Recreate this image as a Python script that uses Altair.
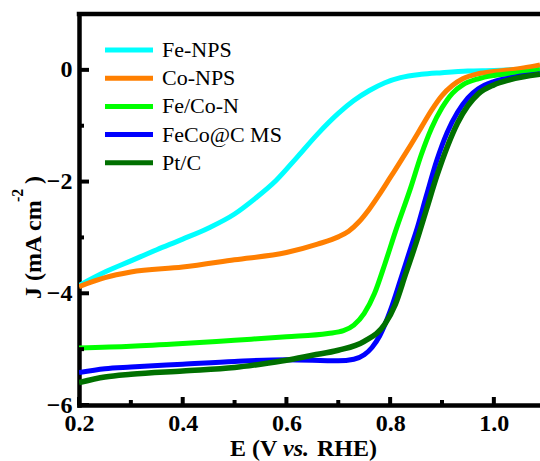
import altair as alt
import pandas as pd

# Series names and colours (legend order = drawing order)
series_names = ["Fe-NPS", "Co-NPS", "Fe/Co-N", "FeCo@C MS", "Pt/C"]
series_colors = ["#00FFFF", "#FF7F00", "#00FF00", "#0000FF", "#007000"]

# LSV curves: potential E (V vs. RHE) and current density J (mA cm-2)
fe_nps_E = [0.20, 0.25, 0.30, 0.35, 0.40, 0.45, 0.50, 0.54, 0.58, 0.62, 0.66, 0.70,
            0.73, 0.76, 0.79, 0.82, 0.86, 0.90, 0.95, 1.00, 1.05, 1.089]
fe_nps_J = [-3.86, -3.62, -3.42, -3.22, -3.03, -2.83, -2.58, -2.30, -1.98, -1.57, -1.15, -0.78,
            -0.55, -0.37, -0.23, -0.14, -0.08, -0.05, -0.02, -0.01, 0.01, 0.03]

co_nps_E = [0.20, 0.25, 0.30, 0.40, 0.50, 0.60, 0.66, 0.70, 0.72, 0.74, 0.76, 0.78, 0.80,
            0.82, 0.84, 0.86, 0.88, 0.90, 0.92, 0.94, 0.97, 1.00, 1.03, 1.06, 1.089]
co_nps_J = [-3.88, -3.72, -3.62, -3.53, -3.40, -3.27, -3.12, -2.99, -2.89, -2.72, -2.49, -2.22, -1.93,
            -1.64, -1.34, -1.03, -0.72, -0.46, -0.28, -0.16, -0.07, -0.03, 0.00, 0.04, 0.09]

fecon_E = [0.20, 0.30, 0.40, 0.50, 0.60, 0.68, 0.71, 0.73, 0.75, 0.77, 0.79, 0.81,
           0.84, 0.86, 0.88, 0.90, 0.92, 0.94, 0.97, 1.00, 1.05, 1.089]
fecon_J = [-4.98, -4.95, -4.90, -4.84, -4.78, -4.72, -4.67, -4.57, -4.36, -4.00, -3.47, -2.90,
           -2.10, -1.52, -1.04, -0.68, -0.42, -0.27, -0.16, -0.10, -0.05, 0.00]

feco_ms_E = [0.20, 0.25, 0.30, 0.40, 0.50, 0.60, 0.70, 0.73, 0.75, 0.765, 0.78, 0.80, 0.82,
             0.84, 0.85, 0.87, 0.89, 0.91, 0.93, 0.95, 0.97, 1.00, 1.04, 1.089]
feco_ms_J = [-5.42, -5.35, -5.32, -5.27, -5.22, -5.19, -5.21, -5.18, -5.10, -4.97, -4.76, -4.32, -3.76,
             -3.18, -2.90, -2.25, -1.62, -1.12, -0.76, -0.50, -0.34, -0.21, -0.13, -0.07]

ptc_E = [0.20, 0.25, 0.30, 0.40, 0.50, 0.55, 0.60, 0.65, 0.70, 0.75, 0.79, 0.81, 0.83,
         0.85, 0.87, 0.89, 0.91, 0.93, 0.95, 0.97, 1.00, 1.03, 1.089]
ptc_J = [-5.60, -5.50, -5.45, -5.39, -5.33, -5.27, -5.20, -5.11, -5.02, -4.86, -4.55, -4.20, -3.65,
         -3.10, -2.50, -1.90, -1.38, -0.95, -0.64, -0.43, -0.27, -0.18, -0.08]

all_E = [fe_nps_E, co_nps_E, fecon_E, feco_ms_E, ptc_E]
all_J = [fe_nps_J, co_nps_J, fecon_J, feco_ms_J, ptc_J]

# Axis ticks
x_major = [0.2, 0.4, 0.6, 0.8, 1.0]
x_minor = [0.3, 0.5, 0.7, 0.9]
y_major = [0, -2, -4, -6]
y_minor = [-1, -3, -5]

FONT = "Liberation Serif"
W, H = 461, 391
LINE_W = 5
AXIS_W = 4.5

x_scale = alt.Scale(domain=[0.2, 1.089], nice=False, zero=False)
y_scale = alt.Scale(domain=[-6, 1], nice=False, zero=False)

x_axis = alt.Axis(values=x_major, format=".1f", title="", tickSize=0, grid=False,
                  labelFont=FONT, labelFontSize=24, labelFontWeight="bold", labelColor="black",
                  labelPadding=6, labelFlush=False, labelOverlap=False,
                  domainColor="black", domainWidth=AXIS_W, domainCap="square")
y_axis = alt.Axis(values=y_major, format="d", title="", tickSize=0, grid=False,
                  labelFont=FONT, labelFontSize=24, labelFontWeight="bold", labelColor="black",
                  labelPadding=7, labelOverlap=False,
                  domainColor="black", domainWidth=AXIS_W, domainCap="square")

X = lambda f: alt.X(f, type="quantitative", scale=x_scale, axis=x_axis)
Y = lambda f: alt.Y(f, type="quantitative", scale=y_scale, axis=y_axis)

layers = []

# curves, one layer per sample so later ones sit on top
for name, color, E, J in zip(series_names, series_colors, all_E, all_J):
    df = pd.DataFrame({"E": E, "J": J, "series": name})
    width = LINE_W + 0.5 if name == "Pt/C" else LINE_W
    layers.append(
        alt.Chart(df).mark_line(color=color, strokeWidth=width, clip=True,
                                interpolate="monotone", strokeCap="butt")
        .encode(x=X("E"), y=Y("J"))
    )

# inward tick marks
tick_df = lambda vals, col: pd.DataFrame({col: vals})
layers.append(alt.Chart(tick_df(x_major, "E")).mark_rule(color="black", strokeWidth=4)
              .encode(x=X("E"), y=alt.value(H - 8), y2=alt.value(H)))
layers.append(alt.Chart(tick_df(x_minor, "E")).mark_rule(color="black", strokeWidth=4)
              .encode(x=X("E"), y=alt.value(H - 5), y2=alt.value(H)))
layers.append(alt.Chart(tick_df(y_major, "J")).mark_rule(color="black", strokeWidth=4)
              .encode(y=Y("J"), x=alt.value(0), x2=alt.value(10)))
layers.append(alt.Chart(tick_df(y_minor, "J")).mark_rule(color="black", strokeWidth=4)
              .encode(y=Y("J"), x=alt.value(0), x2=alt.value(5)))

# top frame line
one = pd.DataFrame({"k": [0]})
layers.append(alt.Chart(one).mark_rule(color="black", strokeWidth=AXIS_W, strokeCap="square")
              .encode(x=alt.value(0), x2=alt.value(W), y=alt.value(0)))

# legend
LEG_X0, LEG_X1, LEG_TX = 26, 74, 83
LEG_Y0, LEG_STEP = 36, 28.2
for i, (name, color) in enumerate(zip(series_names, series_colors)):
    yy = LEG_Y0 + i * LEG_STEP
    layers.append(alt.Chart(one).mark_rule(color=color, strokeWidth=LINE_W)
                  .encode(x=alt.value(LEG_X0), x2=alt.value(LEG_X1), y=alt.value(yy)))
    layers.append(alt.Chart(one).mark_text(text=name, font=FONT, fontSize=22, color="black",
                                           align="left", baseline="middle")
                  .encode(x=alt.value(LEG_TX), y=alt.value(yy)))

# axis titles built from pieces (italic "vs.", superscript "-2")
def label(text, x, y, size=24, style="normal", angle=0, align="left"):
    return (alt.Chart(one).mark_text(text=text, font=FONT, fontSize=size, fontWeight="bold",
                                     fontStyle=style, color="black", align=align,
                                     baseline="alphabetic", angle=angle)
            .encode(x=alt.value(x), y=alt.value(y)))

layers.append(label("E (V", 151, 442))
layers.append(label("vs.", 204, 442, style="italic"))
layers.append(label("RHE)", 298, 442, align="right"))

layers.append(label("J (mA cm", -38, 285, angle=270))
layers.append(label("-2", -56, 188, size=16, angle=270))
layers.append(label(")", -38, 170, angle=270))

chart = (
    alt.layer(*layers)
    .properties(width=W, height=H,
                autosize=alt.AutoSizeParams(type="none"),
                padding={"left": 79, "top": 14, "right": 0, "bottom": 56},
                background="white")
    .configure_view(strokeWidth=0)
)

chart.save("out.html", embed_options={"renderer": "svg", "actions": False})
